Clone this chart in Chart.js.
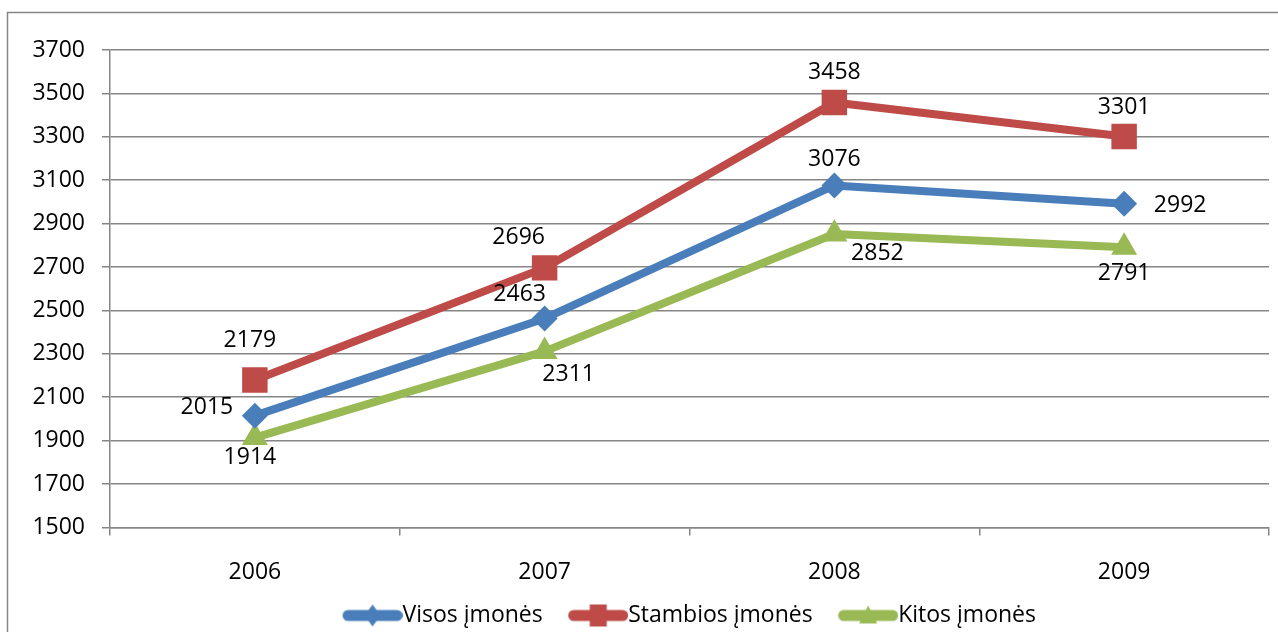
<!DOCTYPE html>
<html><head><meta charset="utf-8">
<script src="https://cdn.jsdelivr.net/npm/chart.js@4/dist/chart.umd.min.js"></script>
<style>html,body{margin:0;padding:0;background:#fff}#wrap{width:1278px;height:632px;position:relative}</style>
</head><body><div id="wrap"><canvas id="c" width="1278" height="632"></canvas></div>
<script>
// ---- data ----
const years = ['2006', '2007', '2008', '2009'];
const visos = [2015, 2463, 3076, 2992];
const stambios = [2179, 2696, 3458, 3301];
const kitos = [1914, 2311, 2852, 2791];
const seriesNames = ['Visos įmonės', 'Stambios įmonės', 'Kitos įmonės'];
const yMin = 1500, yMax = 3700, yStep = 200;

// ---- styles ----
const FONT = '"Open Sans", "DejaVu Sans", sans-serif';
const FS = 23;
const BLUE = '#4A7EBB', RED = '#BE4B48', GREEN = '#98B954';
const GRID = '#868686';

function legendImage(color, style) {
  const W = 97, H = 28;
  const cv = document.createElement('canvas');
  cv.width = W; cv.height = H;
  const g = cv.getContext('2d');
  const cy = H / 2;
  g.strokeStyle = color; g.fillStyle = color;
  g.lineWidth = 11; g.lineCap = 'round';
  g.beginPath(); g.moveTo(W - 60 + 5.5, cy); g.lineTo(W - 5.5, cy); g.stroke();
  const cx = W - 30;
  g.beginPath();
  if (style === 'diamond') {
    g.moveTo(cx, cy - 11); g.lineTo(cx + 8, cy); g.lineTo(cx, cy + 11); g.lineTo(cx - 8, cy);
  } else if (style === 'square') {
    g.rect(cx - 8.5, cy - 11, 17, 22);
  } else {
    g.moveTo(cx, cy - 10); g.lineTo(cx + 9, cy + 8); g.lineTo(cx - 9, cy + 8);
  }
  g.closePath(); g.fill();
  return cv;
}

const labelPlugin = {
  id: 'valueLabels',
  afterDatasetsDraw(chart, args, opts) {
    const ctx = chart.ctx;
    ctx.save();
    ctx.font = FS + 'px ' + FONT;
    ctx.fillStyle = '#000';
    ctx.textAlign = 'center';
    ctx.textBaseline = 'middle';
    chart.data.datasets.forEach((ds, di) => {
      const meta = chart.getDatasetMeta(di);
      meta.data.forEach((pt, i) => {
        const off = opts.offsets[di][i];
        ctx.fillText(String(ds.data[i]), pt.x + off[0], pt.y + off[1]);
      });
    });
    ctx.restore();
  }
};

const framePlugin = {
  id: 'frame',
  afterLayout(chart) {
    const lg = chart.legend;
    if (lg) { lg.top -= 5; lg.bottom -= 5; lg.left -= 13; lg.right -= 13; }
  },
  beforeDraw(chart) {
    const ctx = chart.ctx;
    ctx.save();
    ctx.fillStyle = '#fff';
    ctx.fillRect(0, 0, chart.width, chart.height);
    ctx.strokeStyle = GRID;
    ctx.lineWidth = 1.5;
    ctx.strokeRect(7.5, 12.5, chart.width + 20, chart.height + 20);
    ctx.restore();
  }
};

new Chart(document.getElementById('c'), {
  type: 'line',
  data: {
    labels: years,
    datasets: [
      { label: seriesNames[0], data: visos, borderColor: BLUE, backgroundColor: BLUE,
        borderWidth: 8, pointStyle: 'rectRot', pointRadius: 13, pointBorderWidth: 0,
        pointBackgroundColor: BLUE, order: 2 },
      { label: seriesNames[1], data: stambios, borderColor: RED, backgroundColor: RED,
        borderWidth: 8, pointStyle: 'rect', pointRadius: 18, pointBorderWidth: 0,
        pointBackgroundColor: RED, order: 1 },
      { label: seriesNames[2], data: kitos, borderColor: GREEN, backgroundColor: GREEN,
        borderWidth: 8, pointStyle: 'triangle', pointRadius: 15, pointBorderWidth: 0,
        pointBackgroundColor: GREEN, order: 3 }
    ]
  },
  options: {
    responsive: false,
    animation: false,
    devicePixelRatio: 1,
    layout: { autoPadding: false, padding: { top: 50, right: 9, left: 0, bottom: -10 } },
    elements: { line: { tension: 0, borderCapStyle: 'round', borderJoinStyle: 'round' } },
    scales: {
      x: {
        type: 'category',
        offset: true,
        grid: { display: true, drawOnChartArea: false, drawTicks: true, tickLength: 8,
                offset: true, color: GRID, lineWidth: 1.5 },
        border: { display: true, color: GRID, width: 1.5 },
        ticks: { color: '#000', font: { family: FONT, size: FS }, padding: 23, maxRotation: 0 }
      },
      y: {
        min: yMin, max: yMax,
        afterFit(scale) { scale.width = 110; },
        grid: { color: GRID, lineWidth: 1.5, tickLength: 8, drawTicks: true },
        border: { display: true, color: GRID, width: 1.5 },
        ticks: { stepSize: yStep, color: '#000', font: { family: FONT, size: FS }, padding: 17,
                 callback: (v) => String(v) }
      }
    },
    plugins: {
      tooltip: { enabled: false },
      legend: {
        position: 'bottom',
        fullSize: false,
        labels: {
          usePointStyle: true,
          pointStyleWidth: 74,
          padding: 0,
          color: '#000',
          font: { family: FONT, size: FS },
          generateLabels(chart) {
            const styles = ['diamond', 'square', 'triangle'];
            return chart.data.datasets.map((ds, i) => ({
              text: ds.label,
              pointStyle: legendImage(ds.borderColor, styles[i]),
              fillStyle: ds.borderColor, strokeStyle: ds.borderColor,
              lineWidth: 0, hidden: false, datasetIndex: i, fontColor: '#000'
            }));
          }
        }
      },
      valueLabels: {
        offsets: [
          [[-48, -8], [-25, -24], [0, -26], [56, 2]],
          [[-5, -40], [-26, -30], [0, -30], [0, -29]],
          [[-5, 20], [24, 23], [43, 19], [0, 26]]
        ]
      }
    }
  },
  plugins: [framePlugin, labelPlugin]
});
</script></body></html>
